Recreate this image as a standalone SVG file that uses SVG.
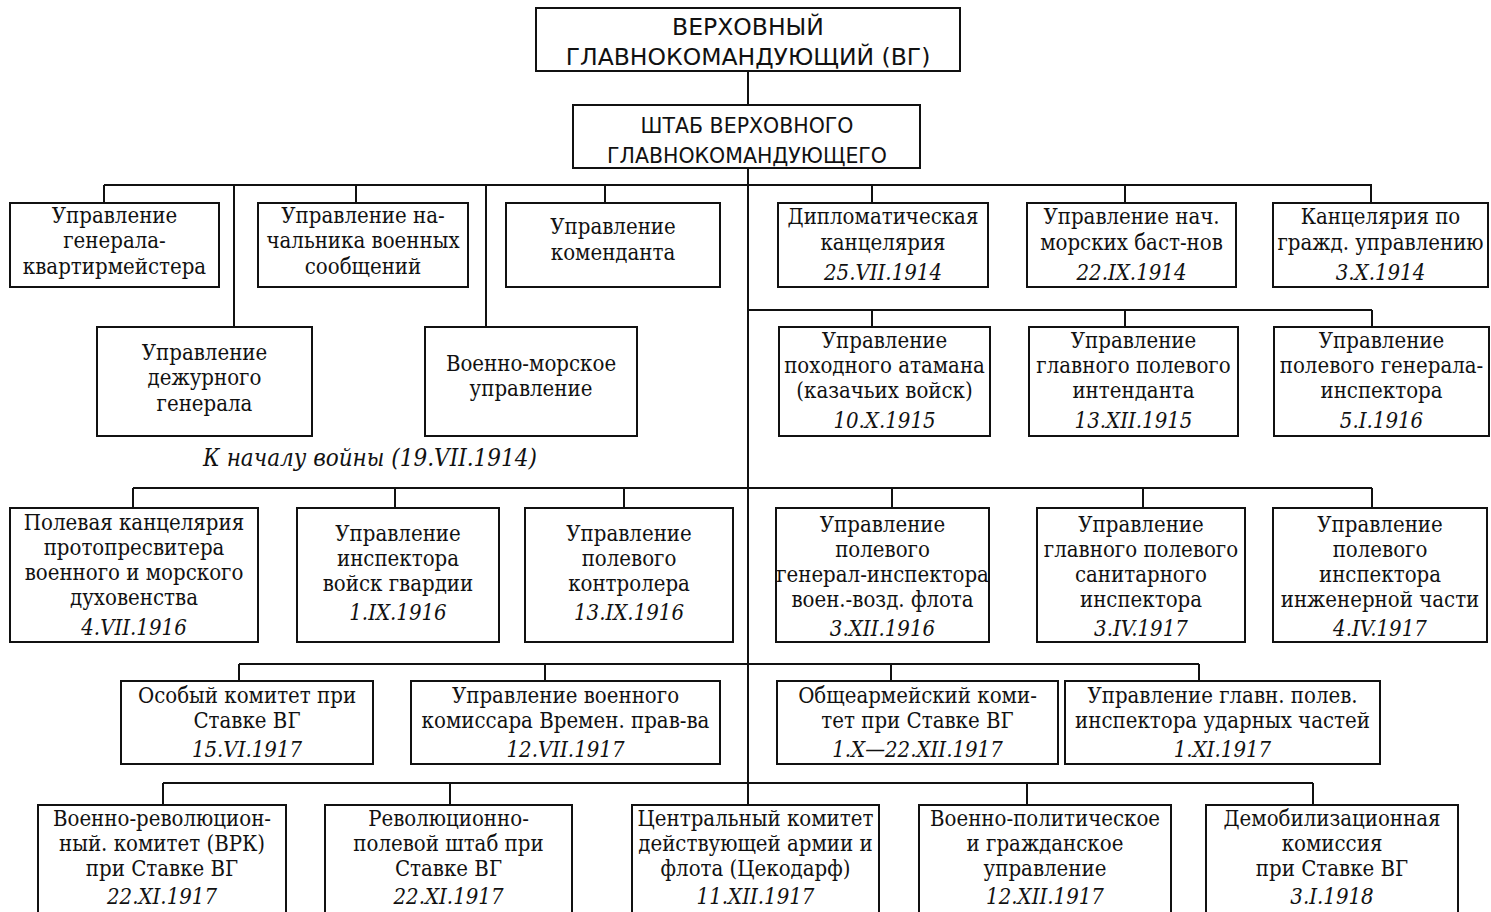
<svg xmlns="http://www.w3.org/2000/svg" width="1491" height="912" viewBox="0 0 1491 912">
<style>
rect.b{fill:#fff;stroke:#111;stroke-width:2}
.c line{stroke:#111;stroke-width:2}
text{font-family:"DejaVu Serif Condensed","DejaVu Serif",serif;font-size:22px;text-anchor:middle;fill:#111}
text.d{font-style:italic}
text.cap{font-size:24px}
text.h{font-family:"DejaVu Sans","Liberation Sans",sans-serif;font-size:23.5px}
text.h2{font-family:"DejaVu Sans","Liberation Sans",sans-serif;font-size:20.5px}
</style>
<rect width="1491" height="912" fill="#fff"/>
<g class="c" id="connectors">
<line x1="748" y1="71" x2="748" y2="105"/>
<line x1="748" y1="168" x2="748" y2="805"/>
<line x1="104" y1="185" x2="1372" y2="185"/>
<line x1="104" y1="185" x2="104" y2="203"/>
<line x1="234" y1="185" x2="234" y2="327"/>
<line x1="356" y1="185" x2="356" y2="203"/>
<line x1="486" y1="185" x2="486" y2="327"/>
<line x1="605" y1="185" x2="605" y2="203"/>
<line x1="872" y1="185" x2="872" y2="203"/>
<line x1="1125" y1="185" x2="1125" y2="203"/>
<line x1="1371" y1="185" x2="1371" y2="203"/>
<line x1="748" y1="310" x2="1372" y2="310"/>
<line x1="872" y1="310" x2="872" y2="327"/>
<line x1="1125" y1="310" x2="1125" y2="327"/>
<line x1="1372" y1="310" x2="1372" y2="327"/>
<line x1="133" y1="488" x2="1372" y2="488"/>
<line x1="133" y1="488" x2="133" y2="508"/>
<line x1="395" y1="488" x2="395" y2="508"/>
<line x1="624" y1="488" x2="624" y2="508"/>
<line x1="892" y1="488" x2="892" y2="508"/>
<line x1="1143" y1="488" x2="1143" y2="508"/>
<line x1="1372" y1="488" x2="1372" y2="508"/>
<line x1="239" y1="664" x2="1199" y2="664"/>
<line x1="239" y1="664" x2="239" y2="681"/>
<line x1="545" y1="664" x2="545" y2="681"/>
<line x1="891" y1="664" x2="891" y2="681"/>
<line x1="1199" y1="664" x2="1199" y2="681"/>
<line x1="163" y1="783" x2="1313" y2="783"/>
<line x1="163" y1="783" x2="163" y2="805"/>
<line x1="450" y1="783" x2="450" y2="805"/>
<line x1="1027" y1="783" x2="1027" y2="805"/>
<line x1="1313" y1="783" x2="1313" y2="805"/>
</g>
<g id="vg"><rect class="b" x="536" y="8" width="424" height="63"/>
<text class="h" x="748" y="35">ВЕРХОВНЫЙ</text><text class="h" x="748" y="65">ГЛАВНОКОМАНДУЮЩИЙ (ВГ)</text></g>
<g id="shtab"><rect class="b" x="573" y="105" width="347" height="63"/>
<text class="h2" x="747" y="133">ШТАБ ВЕРХОВНОГО</text><text class="h2" x="747" y="163">ГЛАВНОКОМАНДУЮЩЕГО</text></g>

<g id="n1"><rect class="b" x="10" y="203" width="209" height="84"/>
<text x="114.5" y="223">Управление</text><text x="114.5" y="248">генерала-</text><text x="114.5" y="274">квартирмейстера</text></g>
<g id="n2"><rect class="b" x="258" y="203" width="210" height="84"/>
<text x="363" y="223">Управление на-</text><text x="363" y="248">чальника военных</text><text x="363" y="274">сообщений</text></g>
<g id="n3"><rect class="b" x="506" y="203" width="214" height="84"/>
<text x="613" y="234">Управление</text><text x="613" y="260">коменданта</text></g>
<g id="n4"><rect class="b" x="778" y="203" width="210" height="84"/>
<text x="883" y="224">Дипломатическая</text><text x="883" y="250">канцелярия</text><text class="d" x="883" y="280">25.VII.1914</text></g>
<g id="n5"><rect class="b" x="1027" y="203" width="209" height="84"/>
<text x="1131.5" y="224">Управление нач.</text><text x="1131.5" y="250">морских баст-нов</text><text class="d" x="1131.5" y="280">22.IX.1914</text></g>
<g id="n6"><rect class="b" x="1273" y="203" width="215" height="84"/>
<text x="1380.5" y="224">Канцелярия по</text><text x="1380.5" y="250">гражд. управлению</text><text class="d" x="1380.5" y="280">3.X.1914</text></g>

<g id="n7"><rect class="b" x="97" y="327" width="215" height="109"/>
<text x="204.5" y="360">Управление</text><text x="204.5" y="385">дежурного</text><text x="204.5" y="411">генерала</text></g>
<g id="n8"><rect class="b" x="425" y="327" width="212" height="109"/>
<text x="531" y="371">Военно-морское</text><text x="531" y="396">управление</text></g>
<text id="caption" class="d cap" x="370" y="466">К началу войны (19.VII.1914)</text>

<g id="n9"><rect class="b" x="779" y="327" width="211" height="109"/>
<text x="884.5" y="348">Управление</text><text x="884.5" y="373">походного атамана</text><text x="884.5" y="398">(казачьих войск)</text><text class="d" x="884.5" y="428">10.X.1915</text></g>
<g id="n10"><rect class="b" x="1029" y="327" width="209" height="109"/>
<text x="1133.5" y="348">Управление</text><text x="1133.5" y="373">главного полевого</text><text x="1133.5" y="398">интенданта</text><text class="d" x="1133.5" y="428">13.XII.1915</text></g>
<g id="n11"><rect class="b" x="1274" y="327" width="215" height="109"/>
<text x="1381.5" y="348">Управление</text><text x="1381.5" y="373">полевого генерала-</text><text x="1381.5" y="398">инспектора</text><text class="d" x="1381.5" y="428">5.I.1916</text></g>

<g id="n12"><rect class="b" x="10" y="508" width="248" height="134"/>
<text x="134" y="530">Полевая канцелярия</text><text x="134" y="555">протопресвитера</text><text x="134" y="580">военного и морского</text><text x="134" y="605">духовенства</text><text class="d" x="134" y="635">4.VII.1916</text></g>
<g id="n13"><rect class="b" x="297" y="508" width="202" height="134"/>
<text x="398" y="541">Управление</text><text x="398" y="566">инспектора</text><text x="398" y="591">войск гвардии</text><text class="d" x="398" y="620">1.IX.1916</text></g>
<g id="n14"><rect class="b" x="525" y="508" width="208" height="134"/>
<text x="629" y="541">Управление</text><text x="629" y="566">полевого</text><text x="629" y="591">контролера</text><text class="d" x="629" y="620">13.IX.1916</text></g>
<g id="n15"><rect class="b" x="776" y="508" width="213" height="134"/>
<text x="882.5" y="532">Управление</text><text x="882.5" y="557">полевого</text><text x="882.5" y="582">генерал-инспектора</text><text x="882.5" y="607">воен.-возд. флота</text><text class="d" x="882.5" y="636">3.XII.1916</text></g>
<g id="n16"><rect class="b" x="1037" y="508" width="208" height="134"/>
<text x="1141" y="532">Управление</text><text x="1141" y="557">главного полевого</text><text x="1141" y="582">санитарного</text><text x="1141" y="607">инспектора</text><text class="d" x="1141" y="636">3.IV.1917</text></g>
<g id="n17"><rect class="b" x="1273" y="508" width="214" height="134"/>
<text x="1380" y="532">Управление</text><text x="1380" y="557">полевого</text><text x="1380" y="582">инспектора</text><text x="1380" y="607">инженерной части</text><text class="d" x="1380" y="636">4.IV.1917</text></g>

<g id="n18"><rect class="b" x="121" y="681" width="252" height="83"/>
<text x="247" y="703">Особый комитет при</text><text x="247" y="728">Ставке ВГ</text><text class="d" x="247" y="757">15.VI.1917</text></g>
<g id="n19"><rect class="b" x="411" y="681" width="309" height="83"/>
<text x="565.5" y="703">Управление военного</text><text x="565.5" y="728">комиссара Времен. прав-ва</text><text class="d" x="565.5" y="757">12.VII.1917</text></g>
<g id="n20"><rect class="b" x="777" y="681" width="281" height="83"/>
<text x="917.5" y="703">Общеармейский коми-</text><text x="917.5" y="728">тет при Ставке ВГ</text><text class="d" x="917.5" y="757">1.X—22.XII.1917</text></g>
<g id="n21"><rect class="b" x="1065" y="681" width="315" height="83"/>
<text x="1222.5" y="703">Управление главн. полев.</text><text x="1222.5" y="728">инспектора ударных частей</text><text class="d" x="1222.5" y="757">1.XI.1917</text></g>

<g id="n22"><rect class="b" x="38" y="805" width="248" height="115"/>
<text x="162" y="826">Военно-революцион-</text><text x="162" y="851">ный. комитет (ВРК)</text><text x="162" y="876">при Ставке ВГ</text><text class="d" x="162" y="904">22.XI.1917</text></g>
<g id="n23"><rect class="b" x="325" y="805" width="247" height="115"/>
<text x="448.5" y="826">Революционно-</text><text x="448.5" y="851">полевой штаб при</text><text x="448.5" y="876">Ставке ВГ</text><text class="d" x="448.5" y="904">22.XI.1917</text></g>
<g id="n24"><rect class="b" x="632" y="805" width="247" height="115"/>
<text x="755.5" y="826">Центральный комитет</text><text x="755.5" y="851">действующей армии и</text><text x="755.5" y="876">флота (Цекодарф)</text><text class="d" x="755.5" y="904">11.XII.1917</text></g>
<g id="n25"><rect class="b" x="919" y="805" width="252" height="115"/>
<text x="1045" y="826">Военно-политическое</text><text x="1045" y="851">и гражданское</text><text x="1045" y="876">управление</text><text class="d" x="1045" y="904">12.XII.1917</text></g>
<g id="n26"><rect class="b" x="1206" y="805" width="252" height="115"/>
<text x="1332" y="826">Демобилизационная</text><text x="1332" y="851">комиссия</text><text x="1332" y="876">при Ставке ВГ</text><text class="d" x="1332" y="904">3.I.1918</text></g>
</svg>
